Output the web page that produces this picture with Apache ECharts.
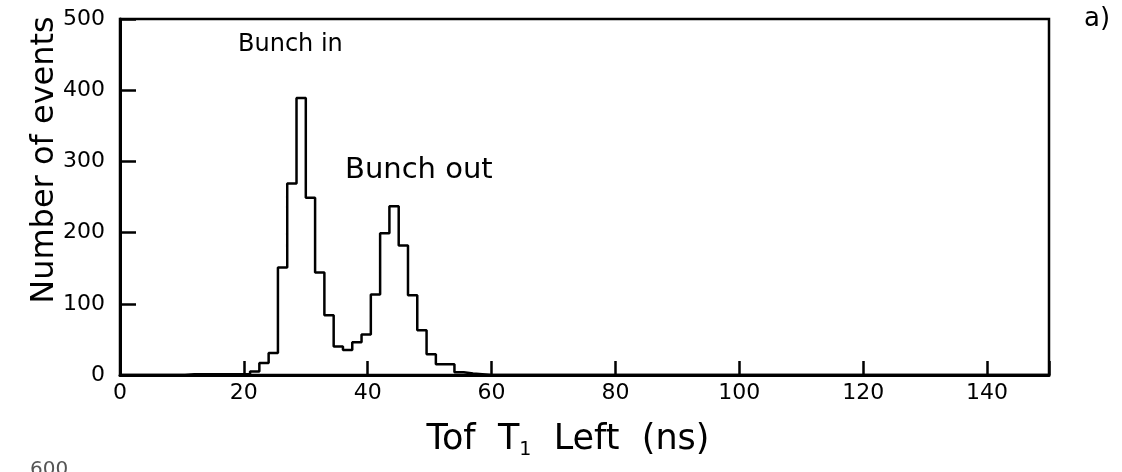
<!DOCTYPE html>
<html>
<head>
<meta charset="utf-8">
<script src="https://cdn.jsdelivr.net/npm/echarts@6/dist/echarts.min.js"></script>
<style>
html,body{margin:0;padding:0;background:#fff;}
#chart{width:1122px;height:472px;}
</style>
</head>
<body>
<div id="chart"></div>
<script>
// Histogram: bin width 1.5 ns, bins starting at 0
const binWidth = 1.5;
const counts = [
  0,0,0,0,0,0,0,1,1,1,1,1,1,1,   // 0 .. 21
  5,17,31,151,269,389,249,144,84,40,35,46,57,113,199,237,182,112,63,29,15,15,4,2,1,
  0,0,0,0,0,0,0,0,0,0,0,0,0,0,0,0,0,0,0,0,0,0,0,0,0,0,0,0,0,0,0,0,0,0,0,0,0,0,0,0,0,0,0,0,0,0,0,0,0,0,0,0,0,0,0,0,0,0,0,0,0
];
const xTicks = [0, 20, 40, 60, 80, 100, 120, 140];
const yTicks = [0, 100, 200, 300, 400, 500];
const xName = 'Tof  T{s|1}  Left  (ns)';
const yName = 'Number of events';
const notes = ['Bunch in', 'Bunch out', 'a)'];

const nBins = Math.round(150 / binWidth);
const pts = [];
for (let i = 0; i < nBins; i++) pts.push([i * binWidth, counts[i] || 0]);
pts.push([150, 0]);

const chart = echarts.init(document.getElementById('chart'));
const font = 'DejaVu Sans';
chart.setOption({
  animation: false,
  backgroundColor: '#fff',
  grid: {left: 120, right: 73, top: 19, bottom: 97, show: true, borderColor: '#000', borderWidth: 2.5},
  xAxis: {
    type: 'value', min: 0, max: 150, interval: 20,
    axisLine: {lineStyle: {color: '#000', width: 3}},
    axisTick: {inside: true, length: 14, lineStyle: {color: '#000', width: 2.5}},
    splitLine: {show: false},
    axisLabel: {color: '#000', fontFamily: font, fontSize: 22, margin: 7,
      formatter: v => xTicks.includes(v) ? String(v) : ''}
  },
  yAxis: {
    type: 'value', min: 0, max: 500, interval: 100,
    axisLine: {lineStyle: {color: '#000', width: 3}},
    axisTick: {inside: true, length: 16, lineStyle: {color: '#000', width: 2.5}},
    splitLine: {show: false},
    axisLabel: {color: '#000', fontFamily: font, fontSize: 22, margin: 15,
      formatter: v => yTicks.includes(v) ? String(v) : ''}
  },
  series: [{
    type: 'line', step: 'end', data: pts, symbol: 'none',
    lineStyle: {color: '#000', width: 2.5}
  }],
  graphic: [
    {type: 'text', x: 45, y: 160, rotation: Math.PI / 2,
      style: {text: yName, fill: '#000', font: '32px "DejaVu Sans"', align: 'center', verticalAlign: 'middle'}},
    {type: 'text', x: 568, y: 440,
      style: {text: xName, fill: '#000', font: '35px "DejaVu Sans"', align: 'center', verticalAlign: 'middle',
        rich: {s: {font: '19px "DejaVu Sans"', padding: [20, 0, 0, 0], fill: '#000'}}}},
    {type: 'text', left: 238, top: 33, style: {text: notes[0], fill: '#000', font: '24px "DejaVu Sans"'}},
    {type: 'text', left: 345, top: 156, style: {text: notes[1], fill: '#000', font: '29px "DejaVu Sans"'}},
    {type: 'text', left: 1084, top: 6, style: {text: notes[2], fill: '#000', font: '26px "DejaVu Sans"'}},
    {type: 'text', left: 30, top: 460, style: {text: '600', fill: '#555', font: '20px "DejaVu Sans"'}}
  ]
});
</script>
</body>
</html>
